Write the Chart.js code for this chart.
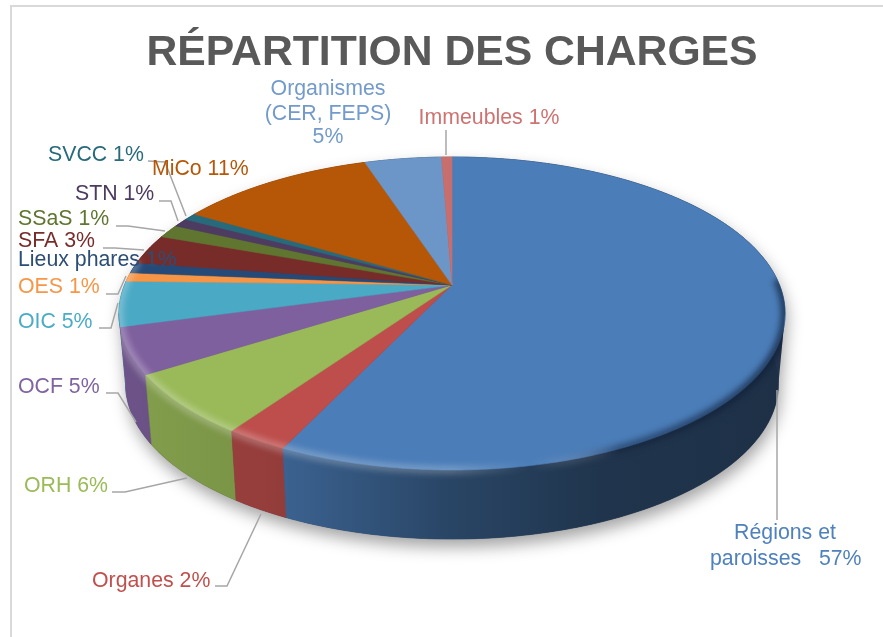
<!DOCTYPE html>
<html>
<head>
<meta charset="utf-8">
<title>Répartition des charges</title>
<script src="https://cdn.jsdelivr.net/npm/chart.js@4"></script>
<style>
  html, body { margin: 0; padding: 0; background: #fff; overflow: hidden; }
  #frame { position: absolute; left: 10px; top: 5px; width: 873px; height: 632px; border-left: 2px solid #d9d9d9; border-top: 2px solid #d9d9d9; box-sizing: border-box; }
  #charges { position: absolute; left: 0; top: 0; }
</style>
</head>
<body>
<div id="frame"></div>
<canvas id="charges" width="883" height="637"></canvas>
<script>
// Charges breakdown, clockwise from 12 o'clock
const categories = ["Régions et paroisses", "Organes", "ORH", "OCF", "OIC", "OES", "Lieux phares", "SFA", "SSaS", "STN", "SVCC", "MiCo", "Organismes (CER, FEPS)", "Immeubles"];
const shares = [57.1, 2.6, 6.3, 4.75, 4.65, 0.9, 1.1, 3.1, 1.4, 0.9, 0.75, 11.4, 4.45, 0.6];
const sliceColors = ["#4b7db8", "#bd4e4c", "#9aba59", "#7f609f", "#4aa9c5", "#f69546", "#254a78", "#772c2a", "#5f7530", "#4d3b62", "#276a7c", "#b65708", "#6c95c8", "#c86f6e"];
const textColors = ["#4f81bd", "#c0504d", "#9bbb59", "#8064a2", "#4bacc6", "#f79646", "#2c4d75", "#772c2a", "#5f7530", "#4d3b5f", "#276a7c", "#b65708", "#729aca", "#cd7371"];

// text lines of each data label: [align, x, baseline, text]
const labelLines = [
  [["center", 785, 539, "Régions et"], ["left", 710, 565, "paroisses   57%"]],
  [["left", 92, 587, "Organes 2%"]],
  [["left", 24, 492, "ORH 6%"]],
  [["left", 18, 393, "OCF 5%"]],
  [["left", 18, 328, "OIC 5%"]],
  [["left", 18, 293, "OES 1%"]],
  [["left", 18, 266, "Lieux phares 1%"]],
  [["left", 18, 247, "SFA 3%"]],
  [["left", 18, 225, "SSaS 1%"]],
  [["left", 75, 200, "STN 1%"]],
  [["left", 48, 161, "SVCC 1%"]],
  [["left", 152, 175, "MiCo 11%"]],
  [["center", 328, 95, "Organismes"], ["center", 328, 120, "(CER, FEPS)"], ["center", 328, 143, "5%"]],
  [["center", 489, 124, "Immeubles 1%"]],
];
const leaderLines = [
  [[777, 520], [777, 390]],
  [[215, 586], [227, 586], [261, 514]],
  [[112, 492], [125, 492], [187, 478]],
  [[106, 393], [118, 393], [136, 422]],
  [[99, 328], [111, 328], [118, 303]],
  [[106, 294], [118, 294], [126, 276]],
  [],
  [[103, 248], [115, 248], [144, 250]],
  [[116, 226], [128, 226], [165, 231]],
  [[159, 201], [171, 201], [178, 221]],
  [[148, 161], [165, 162], [186, 216]],
  [],
  [],
  [[446, 130], [446, 155]],
];

// Projection of the tilted disc
const persp = 0.182;
const discX = 452;
const topY = 285;
const baseY = 356;
const scaleX = 327.5;
const scaleY = 151.3;
const baseScaleX = 0.98;
const baseScaleY = 0.99;

function project(angle, onBase) {
  const w = 1 - persp * Math.sin(angle);
  return {
    x: discX + (scaleX * (onBase ? baseScaleX : 1) * Math.cos(angle)) / w,
    y: (onBase ? baseY : topY) + (scaleY * (onBase ? baseScaleY : 1) * Math.sin(angle)) / w,
  };
}

function traceRim(ctx, from, to, onBase, start) {
  const steps = Math.max(2, Math.ceil(Math.abs(to - from) / 0.01));
  for (let i = 0; i <= steps; i++) {
    const p = project(from + ((to - from) * i) / steps, onBase);
    if (i === 0 && start) ctx.moveTo(p.x, p.y);
    else ctx.lineTo(p.x, p.y);
  }
}

function shade(hex, f) {
  const n = parseInt(hex.slice(1), 16);
  const r = Math.round(((n >> 16) & 255) * f);
  const g = Math.round(((n >> 8) & 255) * f);
  const b = Math.round((n & 255) * f);
  return "rgb(" + r + "," + g + "," + b + ")";
}

function silhouette(ctx) {
  const a0 = Math.asin(persp);
  ctx.beginPath();
  traceRim(ctx, Math.PI - a0, 2 * Math.PI + a0, false, true);
  traceRim(ctx, a0, Math.PI - a0, true, false);
  ctx.closePath();
}

const tiltedPie = {
  id: "tiltedPie",
  beforeDatasetsDraw: function (chart) {
    const ctx = chart.ctx;
    const arcs = chart.getDatasetMeta(0).data;
    const a0 = Math.asin(persp);
    const leftEdge = Math.PI - a0;

    ctx.save();

    // soft shadow under the disc
    ctx.save();
    ctx.shadowColor = "rgba(0,0,0,0.36)";
    ctx.shadowBlur = 16;
    ctx.shadowOffsetY = 8;
    ctx.shadowOffsetX = 2;
    ctx.fillStyle = "#25344d";
    silhouette(ctx);
    ctx.fill();
    ctx.restore();

    // walls, last slices first so the front ones cover the sliver at the left edge
    const wallStops = [[118, 0.86], [190, 0.82], [283, 0.78], [450, 0.55], [600, 0.42], [785, 0.38]];
    for (let i = arcs.length - 1; i >= 0; i--) {
      const from = arcs[i].startAngle;
      let to = arcs[i].endAngle;
      if (to < leftEdge && leftEdge - to < 0.15) to = leftEdge;
      const grad = ctx.createLinearGradient(118, 0, 785, 0);
      wallStops.forEach(function (s) {
        grad.addColorStop((s[0] - 118) / 667, shade(sliceColors[i], s[1]));
      });
      ctx.beginPath();
      traceRim(ctx, from, to, false, true);
      traceRim(ctx, to, from, true, false);
      ctx.closePath();
      ctx.fillStyle = grad;
      ctx.strokeStyle = grad;
      ctx.lineWidth = 0.6;
      ctx.fill();
      ctx.stroke();
    }

    // top surface
    arcs.forEach(function (arc, i) {
      ctx.beginPath();
      ctx.moveTo(discX, topY);
      traceRim(ctx, arc.startAngle, arc.endAngle, false, false);
      ctx.closePath();
      ctx.fillStyle = sliceColors[i];
      ctx.strokeStyle = sliceColors[i];
      ctx.lineWidth = 0.6;
      ctx.fill();
      ctx.stroke();
    });

    // bevel along the front rim: light on the left, dark on the right
    ctx.save();
    silhouette(ctx);
    ctx.clip();
    const bevel = ctx.createLinearGradient(118, 0, 785, 0);
    bevel.addColorStop(0, "rgba(255,255,255,0.28)");
    bevel.addColorStop(0.5, "rgba(255,255,255,0.24)");
    bevel.addColorStop(0.62, "rgba(255,255,255,0)");
    bevel.addColorStop(0.75, "rgba(15,30,55,0.5)");
    bevel.addColorStop(1, "rgba(15,30,55,0.75)");
    ctx.filter = "blur(3px)";
    ctx.beginPath();
    traceRim(ctx, -a0 * 0.2, Math.PI + a0 * 0.9, false, true);
    ctx.strokeStyle = bevel;
    ctx.lineWidth = 8;
    ctx.stroke();
    ctx.filter = "none";
    ctx.restore();

    ctx.restore();
    return false;
  },
  afterDraw: function (chart) {
    const ctx = chart.ctx;
    ctx.save();

    ctx.strokeStyle = "#a6a6a6";
    ctx.lineWidth = 1.5;
    leaderLines.forEach(function (pts) {
      if (!pts.length) return;
      ctx.beginPath();
      pts.forEach(function (p, j) {
        if (j === 0) ctx.moveTo(p[0], p[1]);
        else ctx.lineTo(p[0], p[1]);
      });
      ctx.stroke();
    });

    ctx.font = "21.3px 'Liberation Sans', Arial, sans-serif";
    ctx.textBaseline = "alphabetic";
    labelLines.forEach(function (lines, i) {
      ctx.fillStyle = textColors[i];
      lines.forEach(function (l) {
        ctx.textAlign = l[0];
        ctx.fillText(l[3], l[1], l[2]);
      });
    });
    ctx.restore();
  },
};

new Chart(document.getElementById("charges"), {
  type: "pie",
  data: {
    labels: categories,
    datasets: [
      {
        data: shares,
        backgroundColor: sliceColors,
        borderWidth: 0,
      },
    ],
  },
  options: {
    responsive: false,
    animation: false,
    layout: { padding: { left: 21 } },
    plugins: {
      legend: { display: false },
      tooltip: { enabled: false },
      title: {
        display: true,
        text: "RÉPARTITION DES CHARGES",
        color: "#595959",
        font: { family: "'Liberation Sans', Arial, sans-serif", size: 42.7, weight: "bold" },
        padding: { top: 28, bottom: 10 },
      },
    },
  },
  plugins: [tiltedPie],
});
</script>
</body>
</html>
